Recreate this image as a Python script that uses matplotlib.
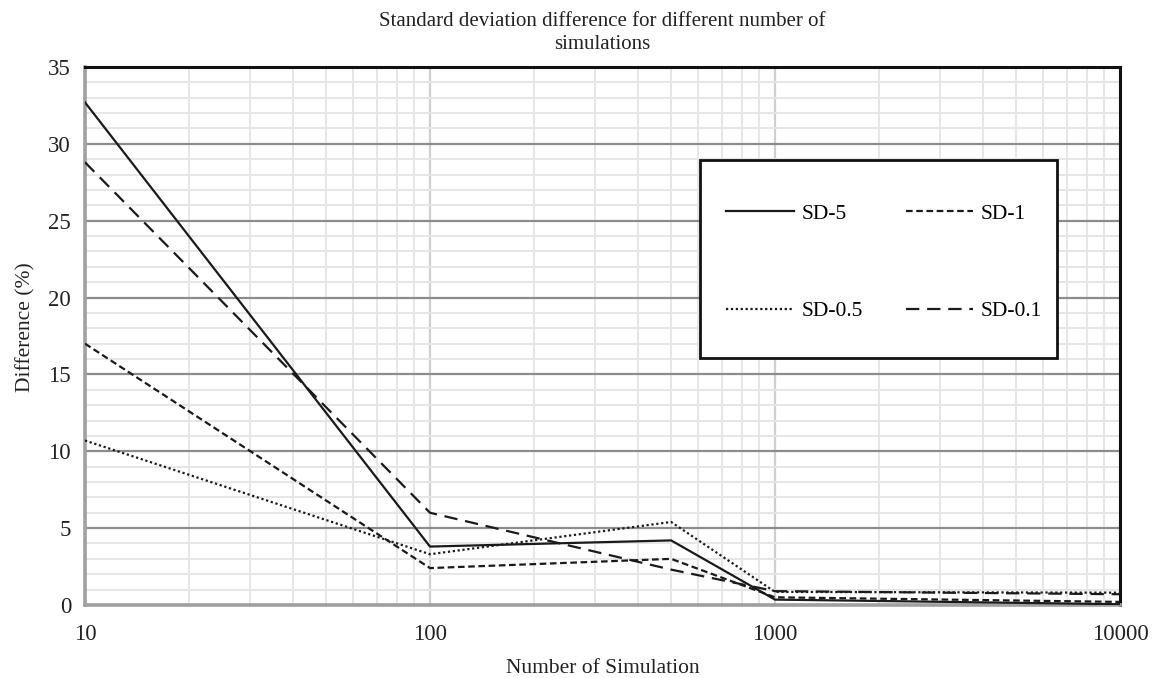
import numpy as np
import matplotlib
matplotlib.use('Agg')
import matplotlib.pyplot as plt
from matplotlib.patches import Rectangle
from matplotlib.ticker import MultipleLocator, LogLocator, FixedLocator

plt.rcParams['font.family'] = ['Liberation Serif', 'DejaVu Serif']

# data
n_sim = [10, 100, 500, 1000, 10000]
sd_5 = [32.7, 3.8, 4.2, 0.35, 0.05]
sd_1 = [17.0, 2.4, 3.0, 0.5, 0.2]
sd_05 = [10.7, 3.3, 5.4, 0.85, 0.8]
sd_01 = [28.8, 6.0, 2.3, 0.9, 0.7]

series = [
    ('SD-5', sd_5, '-'),
    ('SD-1', sd_1, (0, (3, 1.6))),
    ('SD-0.5', sd_05, (0, (1, 1.2))),
    ('SD-0.1', sd_01, (0, (6, 3.5))),
]

fig = plt.figure(figsize=(11.53, 6.78), dpi=100)
ax = fig.add_axes([0.0737, 0.1077, 0.8977, 0.7935])

lines = {}
for label, vals, ls in series:
    lines[label], = ax.plot(n_sim, vals, color='#1a1a1a', linestyle=ls,
                            linewidth=1.6, label=label, zorder=3)

ax.set_xscale('log')
ax.set_xlim(10, 10000)
ax.set_ylim(0, 35)
ax.yaxis.set_major_locator(MultipleLocator(5))
ax.yaxis.set_minor_locator(MultipleLocator(1))
ax.xaxis.set_major_locator(FixedLocator([10, 100, 1000, 10000]))
ax.xaxis.set_minor_locator(LogLocator(base=10, subs=np.arange(2, 10)))
ax.xaxis.set_minor_formatter(matplotlib.ticker.NullFormatter())
ax.set_xticklabels(['10', '100', '1000', '10000'])

ax.grid(which='major', axis='y', color='#8c8c8c', linewidth=1.6, zorder=1)
ax.grid(which='minor', axis='y', color='#e6e6e6', linewidth=1.4, zorder=0)
ax.grid(which='major', axis='x', color='#cfcfcf', linewidth=1.6, zorder=1)
ax.grid(which='minor', axis='x', color='#e6e6e6', linewidth=1.4, zorder=0)
ax.set_axisbelow(True)

ax.tick_params(which='both', length=0, labelsize=16.5, colors='#222222')
ax.tick_params(axis='x', pad=14)
ax.tick_params(axis='y', pad=10)

for side in ['top', 'right']:
    ax.spines[side].set_color('#111111')
    ax.spines[side].set_linewidth(2.2)
for side in ['left', 'bottom']:
    ax.spines[side].set_color('#a0a0a0')
    ax.spines[side].set_linewidth(2.6)

ax.set_xlabel('Number of Simulation', fontsize=15.5, labelpad=10, color='#222222')
ax.set_ylabel('Difference (%)', fontsize=15.5, color='#222222')
ax.yaxis.set_label_coords(-0.048, 0.517)
ax.set_title('Standard deviation difference for different number of\nsimulations',
             fontsize=15, pad=13, color='#222222', linespacing=1.25)

# legend box drawn separately so its padding can be uneven like the original
box = Rectangle((0.594, 0.459), 0.345, 0.368, transform=ax.transAxes,
                facecolor='white', edgecolor='#111111', linewidth=2.0, zorder=4)
ax.add_patch(box)

# row-wise order: SD-5, SD-1 / SD-0.5, SD-0.1
order = ['SD-5', 'SD-0.5', 'SD-1', 'SD-0.1']
leg = ax.legend([lines[k] for k in order], order, ncol=2, loc='center',
                bbox_to_anchor=(0.772, 0.637),
                fontsize=15.5, handlelength=3.15, handletextpad=0.33,
                columnspacing=2.0, labelspacing=3.6, borderpad=0,
                borderaxespad=0, frameon=False)
leg.set_zorder(5)

fig.savefig('out.png', dpi=100)
